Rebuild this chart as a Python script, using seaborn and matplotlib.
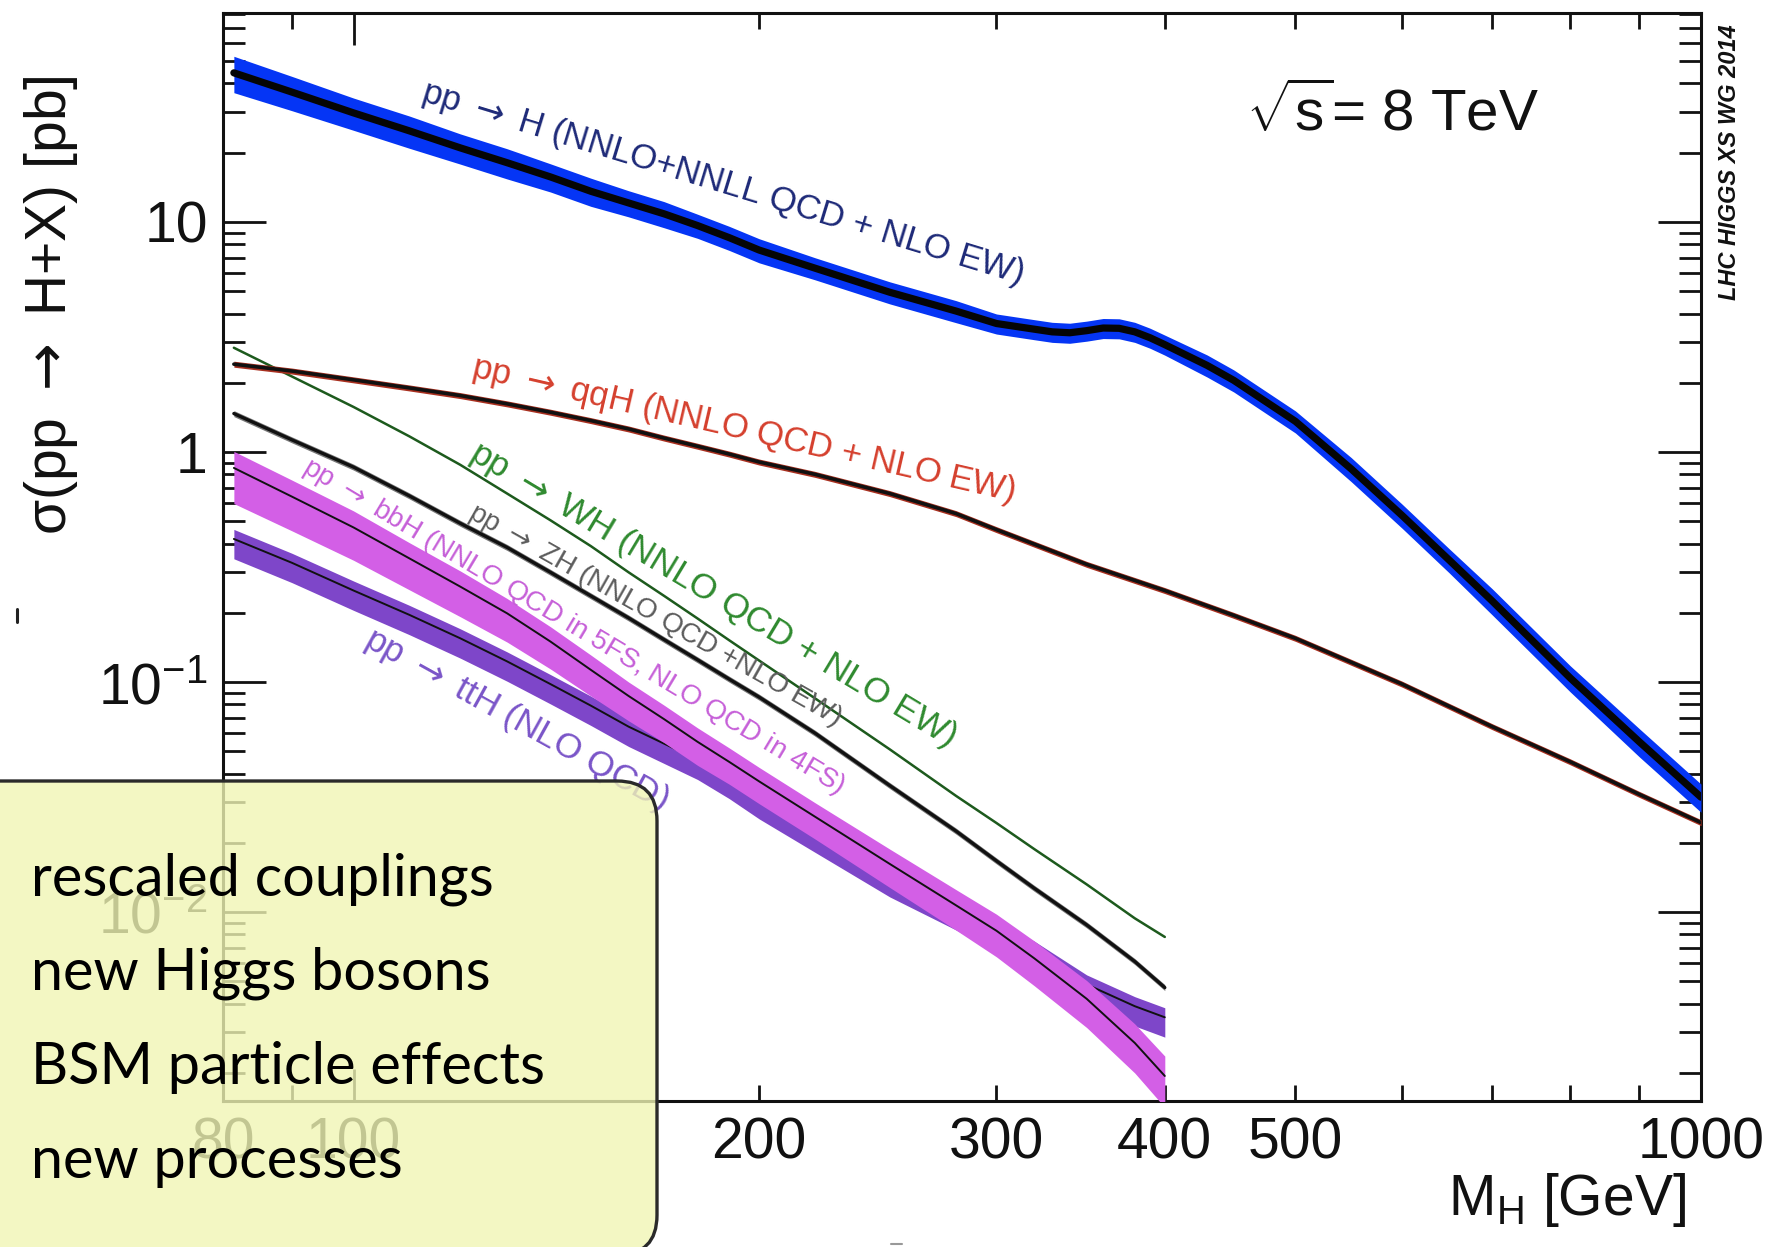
import matplotlib
matplotlib.use("Agg")
import numpy as np
import pandas as pd
import matplotlib.pyplot as plt
import seaborn as sns
from matplotlib.patches import FancyBboxPatch
from matplotlib.lines import Line2D
from matplotlib.ticker import FixedLocator, FuncFormatter

# ---------------- data ----------------
mass_ggf = [81.5, 90, 100, 110, 120, 130, 140, 150, 160, 170, 180, 190, 200, 220, 250,
            280, 300, 320, 330, 340, 350, 360, 370, 380, 390, 400, 430, 450, 500, 550, 600,
            650, 700, 800, 900, 1000]
xs_ggf = [44.5, 36.7, 29.8, 24.9, 21.0, 18.1, 15.7, 13.6, 12.1, 10.85, 9.65, 8.55, 7.55, 6.3, 4.95,
          4.1, 3.62, 3.42, 3.33, 3.30, 3.37, 3.46, 3.45, 3.33, 3.14, 2.93, 2.38, 2.05, 1.36, 0.845, 0.53,
          0.34, 0.225, 0.104, 0.055, 0.0316]
ggf_err_pct = [18, 17, 16, 16, 15, 15, 14, 14, 13, 13, 12, 12, 12, 11, 11,
               11, 10, 10, 10, 10, 10, 10, 10, 10, 10, 10, 11, 11, 11, 12, 12,
               12, 13, 13, 14, 14]

mass_vbf = [81.5, 90, 100, 110, 120, 130, 140, 150, 160, 170, 180, 190, 200, 220, 250,
            280, 300, 350, 400, 450, 500, 600, 700, 800, 900, 1000]
xs_vbf = [2.41, 2.25, 2.06, 1.90, 1.76, 1.62, 1.49, 1.37, 1.26, 1.15, 1.06, 0.98, 0.905, 0.80, 0.66,
          0.54, 0.46, 0.325, 0.25, 0.195, 0.155, 0.098, 0.064, 0.045, 0.0325, 0.0245]

mass_low = [81.5, 90, 100, 110, 120, 130, 140, 150, 160, 170, 180, 190, 200, 220, 250,
            280, 300, 320, 350, 380, 400]
xs_wh = [2.84, 2.13, 1.57, 1.17, 0.88, 0.66, 0.505, 0.39, 0.30, 0.237, 0.189, 0.152, 0.124, 0.085, 0.051,
         0.032, 0.0244, 0.0188, 0.0132, 0.0094, 0.0078]
xs_zh = [1.47, 1.13, 0.86, 0.645, 0.49, 0.385, 0.30, 0.237, 0.19, 0.153, 0.125, 0.103, 0.086, 0.060, 0.0355,
         0.0225, 0.0167, 0.0127, 0.0088, 0.0061, 0.0047]
xs_bbh = [0.853, 0.64, 0.47, 0.345, 0.26, 0.199, 0.150, 0.113, 0.087, 0.069, 0.055, 0.045, 0.037, 0.026, 0.0162,
          0.0107, 0.0083, 0.0063, 0.0042, 0.0027, 0.00194]
bbh_up_pct = [18, 18, 18, 17, 17, 16, 16, 16, 15, 15, 15, 15, 15, 15, 16,
              17, 18, 19, 20, 21, 22]
bbh_dn_pct = [30, 29, 28, 27, 26, 25, 24, 23, 22, 21, 21, 20, 20, 20, 21,
              22, 23, 24, 25, 26, 27]
xs_tth = [0.419, 0.33, 0.25, 0.196, 0.155, 0.123, 0.098, 0.079, 0.064, 0.054, 0.046, 0.038, 0.031, 0.0222, 0.0142,
          0.0102, 0.0082, 0.0068, 0.00485, 0.0039, 0.00349]
tth_up_pct = 10
tth_dn_pct = 18

x_major_ticks = [100, 1000]
x_minor_ticks = [80, 90, 200, 300, 400, 500, 600, 700, 800, 900]
x_labels = {80: "80", 100: "100", 200: "200", 300: "300", 400: "400", 500: "500", 1000: "1000"}
y_major_ticks = [0.01, 0.1, 1, 10]
y_labels = {0.01: r"$10^{-2}$", 0.1: r"$10^{-1}$", 1: "1", 10: "10"}

box_lines = ["rescaled couplings", "new Higgs bosons", "BSM particle effects", "new processes"]

ARROW = r"$\rightarrow$"

# ---------------- style ----------------
sns.set_theme(style="ticks")
plt.rcParams["font.family"] = ["Liberation Sans", "DejaVu Sans"]
plt.rcParams["mathtext.fontset"] = "custom"
plt.rcParams["mathtext.rm"] = "Liberation Sans"
plt.rcParams["mathtext.it"] = "Liberation Sans:italic"
plt.rcParams["mathtext.bf"] = "Liberation Sans:bold"
plt.rcParams["text.color"] = "black"

W, H = 1768, 1247
fig = plt.figure(figsize=(W / 100, H / 100), dpi=100)
fig.patch.set_facecolor("white")
ax = fig.add_axes([223 / W, 1 - 1101 / H, (1701 - 223) / W, (1101 - 13) / H])
ax.set_facecolor("white")
ax.set_xscale("log")
ax.set_yscale("log")

def band(m, c, up, dn, color, z):
    m = np.asarray(m, float)
    c = np.asarray(c, float)
    up = np.asarray(up, float) * np.ones_like(c)
    dn = np.asarray(dn, float) * np.ones_like(c)
    ax.fill_between(m, c * (1 + up / 100), c * (1 - dn / 100), color=color, lw=0, zorder=z)

def line(m, c, color, lw, z):
    df = pd.DataFrame({"mass": m, "xsec": c})
    sns.lineplot(data=df, x="mass", y="xsec", color=color, linewidth=lw, ax=ax,
                 estimator=None, sort=False, zorder=z)

# ttH
band(mass_low, xs_tth, tth_up_pct, tth_dn_pct, "#7e46c9", 2)
line(mass_low, xs_tth, "#111111", 1.4, 3)
# bbH
band(mass_low, xs_bbh, bbh_up_pct, bbh_dn_pct, "#d35fe6", 4)
line(mass_low, xs_bbh, "#111111", 1.4, 5)
# ZH
band(mass_low, xs_zh, 3, 3, "#777777", 6)
line(mass_low, xs_zh, "#111111", 2.4, 7)
# WH
line(mass_low, xs_wh, "#1d5a1d", 1.8, 8)
# qqH
band(mass_vbf, xs_vbf, 3, 3, "#a83020", 9)
line(mass_vbf, xs_vbf, "#111111", 2.6, 10)
# ggF
band(mass_ggf, xs_ggf, ggf_err_pct, ggf_err_pct, "#0535f5", 11)
line(mass_ggf, xs_ggf, "#050505", 5.2, 12)

ax.set_xlim(80, 1000)
ax.set_ylim(0.00151, 81)
ax.set_xlabel("")
ax.set_ylabel("")

y_minor = [k * 10.0 ** e for e in range(-3, 2) for k in range(2, 10)]
ax.xaxis.set_major_locator(FixedLocator(x_major_ticks))
ax.xaxis.set_minor_locator(FixedLocator(x_minor_ticks))
fmt_x = FuncFormatter(lambda v, p: x_labels.get(int(round(v)), ""))
ax.xaxis.set_major_formatter(fmt_x)
ax.xaxis.set_minor_formatter(fmt_x)
ax.yaxis.set_major_locator(FixedLocator(y_major_ticks))
ax.yaxis.set_minor_locator(FixedLocator(y_minor))
def fmt_yf(v, p):
    for k, s in y_labels.items():
        if abs(np.log10(v) - np.log10(k)) < 1e-6:
            return s
    return ""
ax.yaxis.set_major_formatter(FuncFormatter(fmt_yf))
ax.yaxis.set_minor_formatter(FuncFormatter(lambda v, p: ""))

ax.tick_params(axis="both", which="both", direction="in", top=True, right=True,
               width=2.0, color="#111111", labelsize=41, labelcolor="#111111", pad=11)
ax.tick_params(axis="x", which="major", length=23)
ax.tick_params(axis="x", which="minor", length=11.5)
ax.tick_params(axis="y", which="major", length=31)
ax.tick_params(axis="y", which="minor", length=16)
for s in ax.spines.values():
    s.set_linewidth(2.2)
    s.set_color("#111111")

# curve labels
def lab(txt, m, v, rot, size, color):
    ax.text(m, v, txt, rotation=rot, rotation_mode="anchor", ha="left", va="baseline",
            fontsize=size, color=color, zorder=20, math_fontfamily="dejavusans",
            family=["Liberation Sans", "DejaVu Sans"])

lab("pp " + ARROW + " H (NNLO+NNLL QCD + NLO EW)", 112, 33.9, -17, 25, "#1e2a78")
lab("pp " + ARROW + " qqH (NNLO QCD + NLO EW)", 122, 2.14, -13, 25, "#d5402e")
lab("pp " + ARROW + " WH (NNLO QCD + NLO EW)", 121.6, 0.94, -31, 25.5, "#2f8a2f")
lab("pp " + ARROW + " ZH (NNLO QCD +NLO EW)", 121.4, 0.522, -29.5, 20, "#5c5c5c")
lab("pp " + ARROW + " bbH (NNLO QCD in 5FS, NLO QCD in 4FS)", 91.4, 0.83, -31, 20.2, "#c65fd8")
lab("pp " + ARROW + " ttH (NLO QCD)", 101.5, 0.145, -29, 25.5, "#7a55c8")

# other texts
fig.text(1246 / W, 1 - 131 / H, r"$\sqrt{\mathrm{s}}$= 8 TeV", fontsize=42, ha="left", va="baseline",
         color="#111111")
fig.text(1729 / W, 1 - 162 / H, "LHC HIGGS XS WG 2014", rotation=90, fontsize=17,
         fontweight="bold", fontstyle="italic", ha="center", va="center", color="#111111")
fig.text(51 / W, 1 - 305 / H, "\u03c3(pp " + ARROW + " H+X) [pb]", math_fontfamily="dejavusans",
         rotation=90, fontsize=41, ha="center", va="center", color="#111111")
fig.text(1686 / W, 1 - 1200 / H, r"M$_{\mathrm{H}}$ [GeV]", fontsize=41, ha="right", va="center",
         color="#111111")

# small marks
fig.add_artist(Line2D([17 / W, 17 / W], [1 - 609 / H, 1 - 622 / H], color="#222222", lw=2.2,
                      transform=fig.transFigure))
fig.add_artist(Line2D([891 / W, 902 / W], [1 - 1244 / H, 1 - 1244 / H], color="#999999", lw=1.5,
                      transform=fig.transFigure))

# overlay box
box = FancyBboxPatch((-0.05, -8 / H), 657 / W + 0.05, (1255 - 781) / H,
                     boxstyle="round,pad=0,rounding_size=0.0226", mutation_aspect=W / H,
                     transform=fig.transFigure, facecolor=(0.94, 0.96, 0.706, 0.80),
                     edgecolor="#2a2a2a", linewidth=2.4, zorder=30)
fig.add_artist(box)
for i, t in enumerate(box_lines):
    fig.text(31 / W, 1 - (896 + 94 * i) / H, t, fontsize=41.5, family=["Lato", "DejaVu Sans"],
             ha="left", va="baseline", color="black", zorder=31)

fig.savefig("out.png", dpi=100, facecolor="white")
